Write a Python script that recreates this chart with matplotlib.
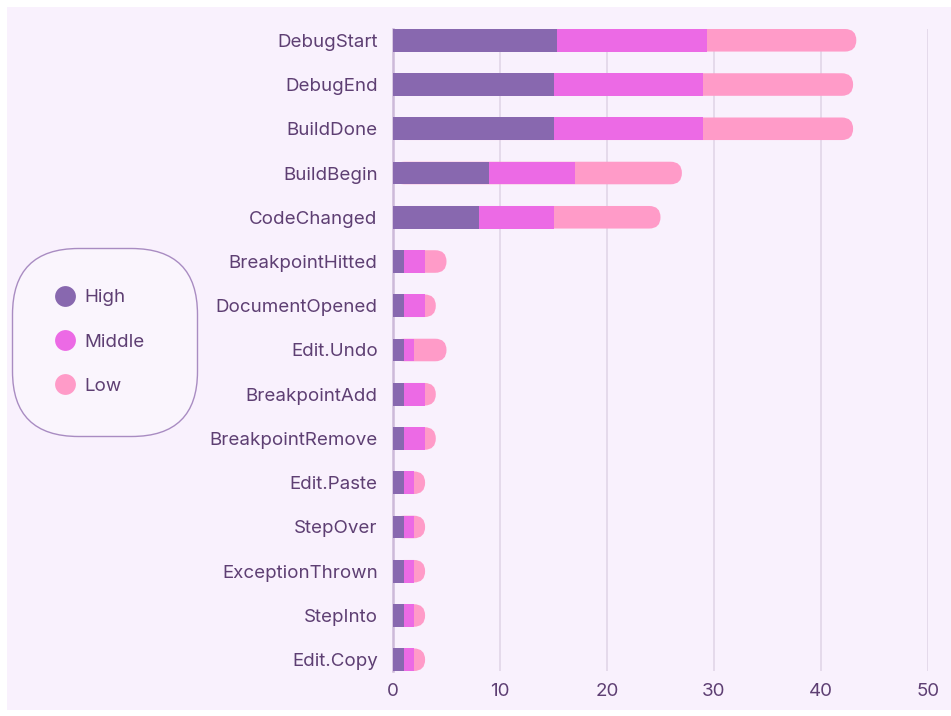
import matplotlib
matplotlib.use("Agg")
from matplotlib import pyplot as plt
from matplotlib.patches import FancyBboxPatch, Rectangle
from matplotlib.lines import Line2D

events = ["DebugStart", "DebugEnd", "BuildDone", "BuildBegin", "CodeChanged",
          "BreakpointHitted", "DocumentOpened", "Edit.Undo", "BreakpointAdd",
          "BreakpointRemove", "Edit.Paste", "StepOver", "ExceptionThrown",
          "StepInto", "Edit.Copy"]
high = [15.3, 15, 15, 9, 8, 1, 1, 1, 1, 1, 1, 1, 1, 1, 1]
middle = [14, 14, 14, 8, 7, 2, 2, 1, 2, 2, 1, 1, 1, 1, 1]
low = [14, 14, 14, 10, 10, 2, 1, 3, 1, 1, 1, 1, 1, 1, 1]
x_ticks = [0, 10, 20, 30, 40, 50]

c_high = "#8868AF"
c_mid = "#EC6AE5"
c_low = "#FF9BC8"
bg = "#F9F1FD"
txt = "#5E3F73"

plt.rcParams["font.family"] = ["Inter", "DejaVu Sans"]

W, H = 951, 716
fig = plt.figure(figsize=(W / 100, H / 100), dpi=100)
fig.patch.set_facecolor("white")
# lavender panel behind everything
fig.patches.append(Rectangle((7 / W, (H - 710) / H), (W - 7) / W, 703 / H,
                             transform=fig.transFigure, facecolor=bg,
                             edgecolor="none", zorder=-10))

ax = fig.add_axes([393 / W, (H - 671) / H, (928 - 393) / W, (671 - 29) / H])
ax.set_facecolor("none")

bar_h = 0.51
n = len(events)
ax.set_xlim(0, 50)
ax.set_ylim(n - 1 + bar_h / 2, -bar_h / 2)

# rounded right end: radius = half bar height in pixels
p0 = ax.transData.transform((0, 0))
px_x = ax.transData.transform((1, 0))[0] - p0[0]
px_y = abs(ax.transData.transform((0, 1))[1] - p0[1])
r_x = (bar_h / 2) * px_y / px_x
aspect = (bar_h / 2) / r_x

for i in range(n):
    total = high[i] + middle[i] + low[i]
    ax.add_patch(FancyBboxPatch((0, i - bar_h / 2), total, bar_h,
                                boxstyle="round,pad=0,rounding_size=%f" % r_x,
                                mutation_aspect=aspect, facecolor=c_low,
                                edgecolor="none", zorder=2))

ypos = list(range(n))
ax.barh(ypos, high, height=bar_h, color=c_high, zorder=3)
ax.barh(ypos, middle, left=high, height=bar_h, color=c_mid, zorder=3)

ax.set_yticks(ypos)
ax.set_yticklabels(events)
ax.set_xticks(x_ticks)
ax.tick_params(axis="both", length=0, colors=txt, labelsize=13.5)
ax.tick_params(axis="y", pad=11)
ax.tick_params(axis="x", pad=9)

ax.grid(axis="x", color="#E3D8EA", linewidth=1.3, zorder=1)
ax.set_axisbelow(True)
for s in ["top", "right", "bottom"]:
    ax.spines[s].set_visible(False)
ax.spines["left"].set_color("#CDB9D9")
ax.spines["left"].set_linewidth(1.8)
ax.spines["left"].set_zorder(1.5)

handles = [Line2D([], [], marker="o", linestyle="none", markersize=15,
                  markerfacecolor=c, markeredgecolor="none")
           for c in [c_high, c_mid, c_low]]
leg = fig.legend(handles, ["High", "Middle", "Low"], loc="center left",
                 bbox_to_anchor=(12 / W, 1 - 342 / H, 185 / W, 0),
                 mode="expand", fontsize=13.5,
                 labelcolor=txt, frameon=True, handlelength=1.2,
                 handletextpad=0.46, labelspacing=1.45, borderpad=2.2,
                 borderaxespad=0)
frame = leg.get_frame()
frame.set_boxstyle("round,pad=0,rounding_size=3.5")
frame.set_facecolor("#FAF5FD")
frame.set_edgecolor("#A98CC2")
frame.set_linewidth(1.0)
frame.set_alpha(1)

plt.savefig("out.png", dpi=100, facecolor=fig.get_facecolor())
